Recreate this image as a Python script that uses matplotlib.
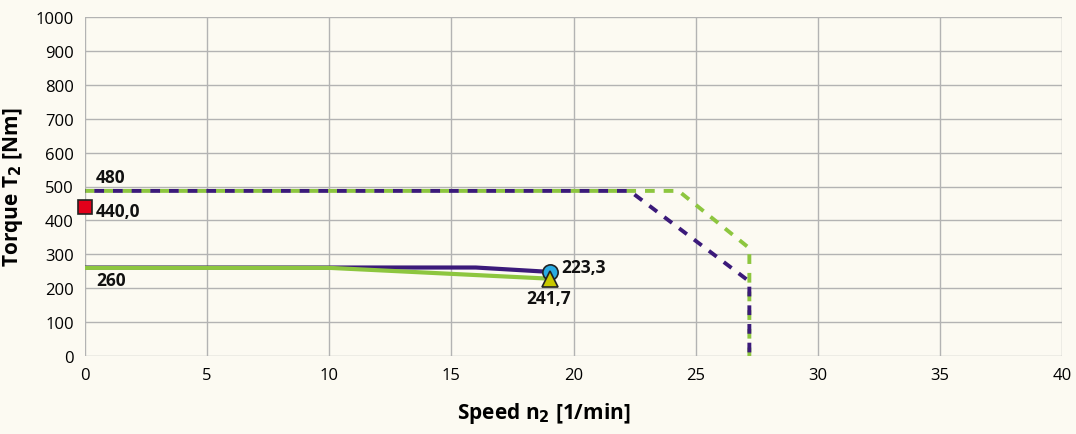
import matplotlib.pyplot as plt

plt.rcParams['font.family'] = ['Open Sans', 'DejaVu Sans']

# limit curves (dashed)
green_dash_x = [0, 22.3, 24.3, 27.2, 27.2]
green_dash_y = [487, 487, 487, 318, 0]
purple_dash_x = [0, 22.3, 27.2, 27.2]
purple_dash_y = [487, 487, 220, 0]

# operating curves (solid)
purple_x = [0, 16.0, 19.05]
purple_y = [261, 261, 248]
green_x = [0, 10.0, 19.05]
green_y = [260, 260, 228]

square_pt = (0, 440)
circle_pt = (19.05, 248)
triangle_pt = (19.05, 228)

purple = '#3b1a7a'
green = '#8dc63f'
bg = '#fcfaf2'

fig = plt.figure(figsize=(10.76, 4.35), dpi=100, facecolor=bg)
ax = fig.add_axes([85 / 1076, 1 - 357 / 435, 977 / 1076, 339 / 435])
ax.set_facecolor(bg)

ax.plot(green_dash_x, green_dash_y, color=green, lw=2.8, ls=(0, (2.5, 2.3)), zorder=3)
ax.plot(purple_dash_x, purple_dash_y, color=purple, lw=2.8, ls=(2.4, (2.5, 2.3)), zorder=4)
ax.plot(purple_x, purple_y, color=purple, lw=3, zorder=3, solid_capstyle='butt')
ax.plot(green_x, green_y, color=green, lw=3, zorder=4, solid_capstyle='butt')

ax.plot(*square_pt, marker='s', ms=10, color='#e2001a', mec='#222222', mew=1.2, clip_on=False, zorder=6)
ax.plot(*circle_pt, marker='o', ms=11, color='#29abe2', mec='#222222', mew=1.2, zorder=6)
ax.plot(*triangle_pt, marker='^', ms=12, color='#c8c800', mec='#222222', mew=1.2, zorder=7)

lab = dict(fontsize=12.5, fontweight='bold', color='#111111', zorder=8)
ax.text(0.45, 502, '480', va='bottom', ha='left', **lab)
ax.text(0.45, 428, '440,0', va='center', ha='left', **lab)
ax.text(0.45, 225, '260', va='center', ha='left', **lab)
ax.text(19.5, 262, '223,3', va='center', ha='left', **lab)
ax.text(19.0, 172, '241,7', va='center', ha='center', **lab)

ax.set_xlim(0, 40)
ax.set_ylim(0, 1000)
ax.set_xticks(range(0, 41, 5))
ax.set_yticks(range(0, 1001, 100))
ax.grid(True, color='#b3b3b3', lw=1)
ax.set_axisbelow(True)
for s in ax.spines.values():
    s.set_visible(False)
ax.tick_params(length=0, labelsize=12, pad=8)

ax.set_xlabel('Speed n$_\\mathbf{2}$ [1/min]', fontsize=15, fontweight='bold')
ax.xaxis.set_label_coords(0.47, -0.13)
ax.set_ylabel('Torque T$_\\mathbf{2}$ [Nm]', fontsize=15, fontweight='bold', labelpad=8)

fig.savefig('out.png', dpi=100, facecolor=bg)
